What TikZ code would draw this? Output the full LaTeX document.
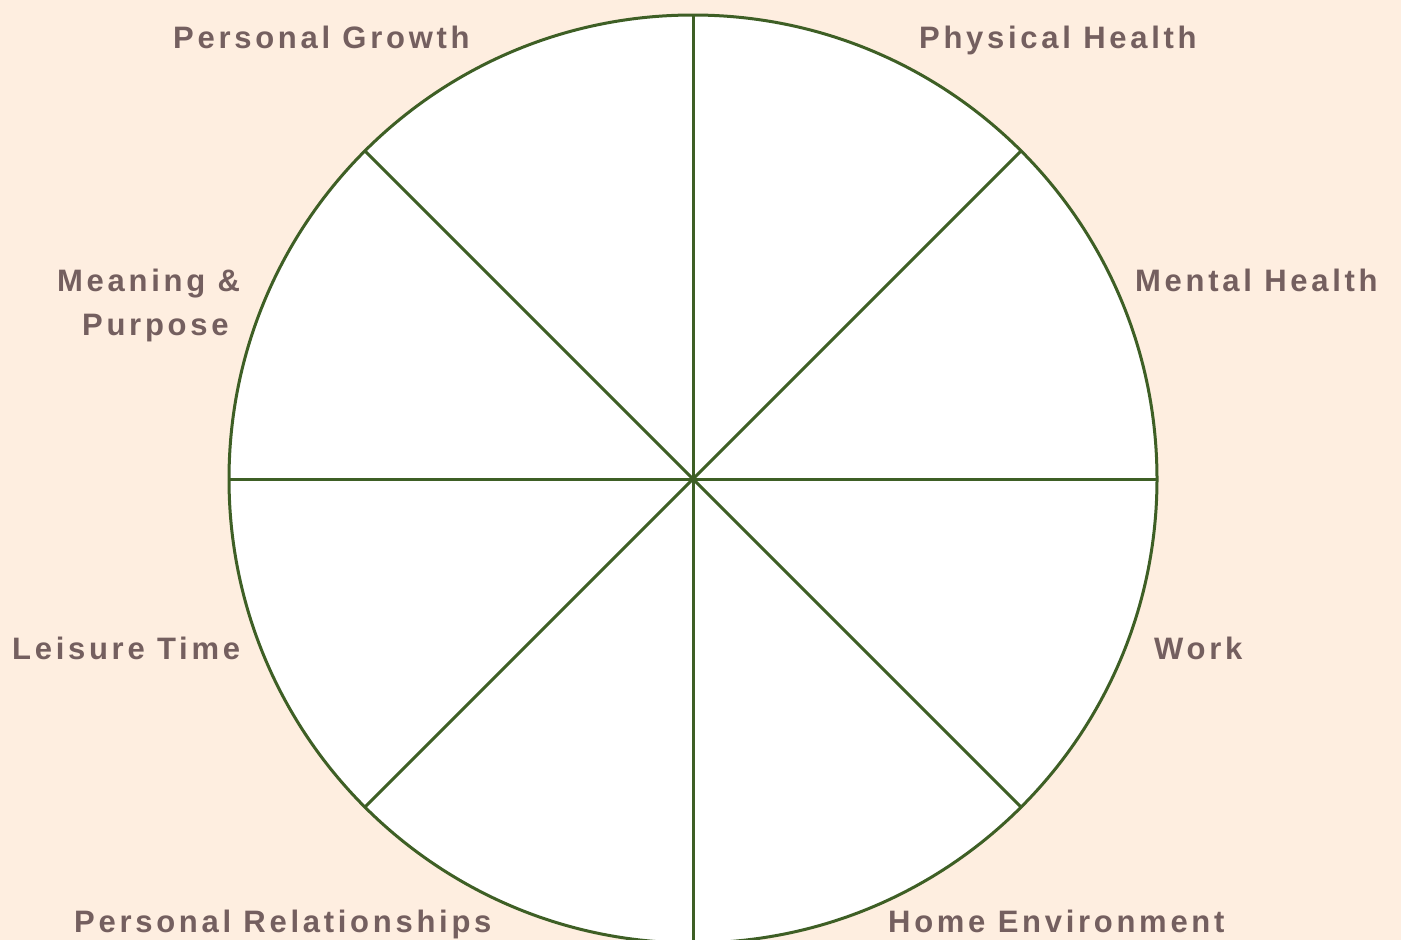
\documentclass[tikz,border=0pt]{standalone}
\usepackage{fontspec}
\setmainfont{Liberation Sans}[LetterSpace=12]
\definecolor{bgpeach}{HTML}{FEEEE0}
\definecolor{spoke}{HTML}{3E5F25}
\definecolor{labeltxt}{HTML}{745F5F}
\begin{document}
\begin{tikzpicture}[x=1pt,y=-1pt,
  lbl/.style={anchor=base west, inner sep=0pt, text=labeltxt, font=\fontsize{31}{44}\selectfont\bfseries},
  rim/.style={draw=spoke, line width=3pt, fill=white},
  spokeline/.style={draw=spoke, line width=3pt}]
\clip (0,0) rectangle (1401,940);
\fill[bgpeach] (0,0) rectangle (1401,940);
\node[rim, circle, minimum size=928pt, inner sep=0pt, outer sep=0pt] (wheel) at (693,479) {};
\draw[spokeline] (wheel.90) -- (wheel.270);
\draw[spokeline] (wheel.0) -- (wheel.180);
\draw[spokeline] (wheel.45) -- (wheel.225);
\draw[spokeline] (wheel.135) -- (wheel.315);
\node[lbl] (pg) at (173,48) {Personal Growth};
\node[lbl] (ph) at (919,48) {Physical Health};
\node[lbl] (mp1) at (57,291) {Meaning \&};
\node[lbl] (mp2) at (82,335) {Purpose};
\node[lbl] (mh) at (1135,291) {Mental Health};
\node[lbl] (lt) at (12,659) {Leisure Time};
\node[lbl] (wk) at (1154,659) {Work};
\node[lbl] (pr) at (74,932) {Personal Relationships};
\node[lbl] (he) at (888,932) {Home Environment};
\end{tikzpicture}
\end{document}
